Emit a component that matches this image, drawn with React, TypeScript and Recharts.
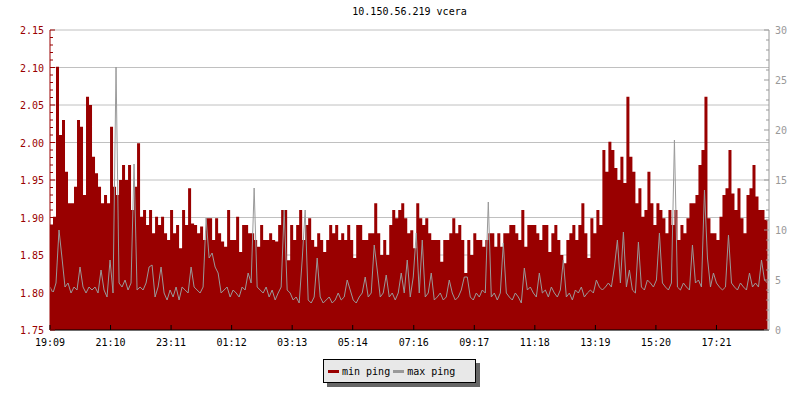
import { ComposedChart, Area, Line, XAxis, YAxis, CartesianGrid, Legend } from "recharts"

// min ping (ms), one value every 6 minutes
const minPing = [
  1.890, 1.901, 2.101, 2.010, 2.030, 1.961, 1.919, 1.919, 1.941, 2.030,
  2.021, 1.930, 2.061, 2.050, 1.981, 1.959, 1.941, 1.919, 1.930, 1.919,
  2.021, 1.941, 1.930, 1.950, 1.970, 1.950, 1.970, 1.910, 1.941, 1.999,
  1.901, 1.910, 1.890, 1.910, 1.879, 1.901, 1.890, 1.901, 1.879, 1.870,
  1.910, 1.879, 1.890, 1.859, 1.910, 1.890, 1.939, 1.892, 1.890, 1.879,
  1.888, 1.870, 1.899, 1.899, 1.870, 1.899, 1.879, 1.868, 1.861, 1.910,
  1.870, 1.870, 1.901, 1.854, 1.890, 1.890, 1.879, 1.879, 1.870, 1.861,
  1.890, 1.870, 1.870, 1.879, 1.870, 1.868, 1.890, 1.910, 1.910, 1.843,
  1.890, 1.870, 1.890, 1.910, 1.870, 1.890, 1.899, 1.870, 1.861, 1.879,
  1.870, 1.854, 1.870, 1.890, 1.879, 1.890, 1.870, 1.879, 1.870, 1.890,
  1.870, 1.846, 1.890, 1.890, 1.870, 1.870, 1.879, 1.879, 1.919, 1.879,
  1.850, 1.870, 1.850, 1.890, 1.910, 1.899, 1.910, 1.919, 1.899, 1.879,
  1.883, 1.859, 1.919, 1.899, 1.890, 1.899, 1.879, 1.870, 1.870, 1.870,
  1.841, 1.870, 1.870, 1.879, 1.899, 1.879, 1.890, 1.870, 1.826, 1.870,
  1.850, 1.879, 1.870, 1.870, 1.861, 1.870, 1.879, 1.879, 1.861, 1.879,
  1.861, 1.879, 1.879, 1.890, 1.890, 1.879, 1.870, 1.910, 1.861, 1.890,
  1.890, 1.890, 1.879, 1.870, 1.890, 1.890, 1.854, 1.879, 1.890, 1.870,
  1.850, 1.839, 1.870, 1.879, 1.890, 1.870, 1.890, 1.919, 1.879, 1.846,
  1.899, 1.879, 1.910, 1.890, 1.990, 1.961, 2.001, 1.990, 1.966, 1.950,
  1.981, 1.946, 2.061, 1.981, 1.961, 1.919, 1.939, 1.901, 1.910, 1.961,
  1.919, 1.890, 1.919, 1.910, 1.899, 1.879, 1.910, 1.890, 1.910, 1.870,
  1.890, 1.879, 1.899, 1.919, 1.919, 1.930, 1.970, 1.990, 2.061, 1.899,
  1.879, 1.879, 1.870, 1.901, 1.930, 1.939, 1.990, 1.932, 1.910, 1.939,
  1.899, 1.879, 1.930, 1.939, 1.970, 1.928, 1.910, 1.910, 1.897, 1.897,
]

// max ping (ms), right axis
const maxPing = [
  4.3, 3.7, 4.7, 10.0, 7.2, 4.3, 4.7, 3.7, 4.3, 4.0,
  6.3, 4.3, 3.7, 4.3, 4.0, 4.3, 3.7, 6.0, 4.0, 3.3,
  7.0, 3.7, 26.3, 4.7, 4.3, 5.0, 4.0, 4.7, 16.6, 4.0,
  4.3, 4.0, 4.7, 6.3, 6.5, 3.3, 4.3, 6.3, 3.7, 3.0,
  4.0, 3.3, 4.3, 3.0, 4.3, 4.0, 3.7, 6.3, 4.3, 4.0,
  3.7, 4.3, 11.2, 7.2, 7.7, 6.3, 5.7, 3.7, 4.0, 4.3,
  3.3, 4.0, 3.7, 3.3, 4.3, 4.0, 5.7, 4.7, 14.2, 4.3,
  4.0, 3.7, 4.3, 3.3, 4.0, 3.0, 3.7, 4.3, 12.0, 4.0,
  3.7, 3.0, 3.3, 2.7, 7.0, 12.0, 3.0, 2.7, 3.3, 7.2,
  3.3, 2.7, 3.0, 3.3, 2.7, 3.0, 3.7, 3.0, 3.3, 5.0,
  4.0, 3.0, 2.7, 3.3, 3.7, 5.3, 3.3, 3.7, 8.5, 6.0,
  3.3, 3.7, 5.5, 3.3, 3.7, 3.0, 3.7, 5.7, 3.7, 7.0,
  3.3, 5.3, 9.7, 3.7, 9.0, 3.3, 3.7, 5.7, 3.0, 3.3,
  3.7, 3.0, 3.3, 5.0, 3.7, 3.0, 3.3, 4.0, 5.3, 5.3,
  3.3, 3.0, 3.7, 3.3, 4.0, 3.7, 12.8, 3.3, 3.7, 3.0,
  3.7, 8.7, 3.7, 3.3, 3.0, 3.7, 3.3, 2.7, 6.2, 4.0,
  4.3, 3.7, 3.3, 5.7, 3.7, 4.0, 3.3, 4.3, 3.7, 3.3,
  4.0, 7.0, 3.3, 3.7, 3.0, 4.0, 3.7, 4.3, 3.3, 3.7,
  4.0, 3.7, 5.0, 4.3, 4.0, 4.3, 4.7, 4.3, 6.3, 9.0,
  4.7, 9.8, 4.3, 6.0, 4.0, 3.7, 8.8, 4.3, 4.0, 5.0,
  4.7, 4.3, 5.0, 9.7, 4.7, 4.3, 4.0, 4.7, 19.0, 4.3,
  4.0, 4.7, 4.3, 4.0, 8.5, 4.7, 5.0, 4.3, 14.0, 7.2,
  4.3, 5.7, 4.7, 4.3, 4.0, 4.3, 9.5, 4.7, 4.3, 4.0,
  4.7, 4.3, 4.0, 5.7, 4.3, 4.7, 4.3, 7.0, 5.0, 4.7,
]

const stepMinutes = 6
const tickLabels = ["19:09", "21:10", "23:11", "01:12", "03:13", "05:14", "07:16", "09:17", "11:18", "13:19", "15:20", "17:21"]
const tickMinutes = [0, 121, 242, 363, 484, 605, 727, 848, 969, 1090, 1211, 1332]
const leftMajor = [1.75, 1.8, 1.85, 1.9, 1.95, 2.0, 2.05, 2.1, 2.15]
const leftTicks = Array.from({ length: 41 }, (_, i) => +(1.75 + i * 0.01).toFixed(2))
const rightTicks = Array.from({ length: 31 }, (_, i) => i)
const seriesOrder = ["min ping", "max ping"]

const RED = "#990000"
const GREY = "#999999"
const FONT = "DejaVu Sans Mono"

const data = minPing.map((v, i) => ({ t: i * stepMinutes, min: v, max: maxPing[i] }))

const LeftTick = (props: any) => {
  const { x, y, payload } = props
  const v = payload.value
  const major = leftMajor.some((m) => Math.abs(m - v) < 1e-6)
  return (
    <g>
      <line x1={x} y1={y} x2={x + (major ? 5 : 3)} y2={y} stroke={RED} />
      {major && (
        <text x={x - 6} y={y} dy={4} textAnchor="end" fill={RED} fontSize={10} fontFamily={FONT}>
          {v.toFixed(2)}
        </text>
      )}
    </g>
  )
}

const RightTick = (props: any) => {
  const { x, y, payload } = props
  const v = payload.value
  const major = v % 5 === 0
  return (
    <g>
      <line x1={x} y1={y} x2={x - (major ? 5 : 3)} y2={y} stroke={GREY} />
      {major && (
        <text x={x + 6} y={y} dy={4} textAnchor="start" fill={GREY} fontSize={10} fontFamily={FONT}>
          {v}
        </text>
      )}
    </g>
  )
}

const TimeTick = (props: any) => {
  const { x, y, payload } = props
  const label = tickLabels[tickMinutes.indexOf(payload.value)]
  return (
    <g>
      <line x1={x} y1={y} x2={x} y2={y - 5} stroke="#000" />
      <text x={x} y={y + 16} textAnchor="middle" fill="#000" fontSize={10} fontFamily={FONT}>
        {label}
      </text>
    </g>
  )
}

const PingLegend = (props: any) => {
  const items = [...(props.payload ?? [])].sort(
    (a: any, b: any) => seriesOrder.indexOf(a.value) - seriesOrder.indexOf(b.value)
  )
  return (
    <div style={{ position: "relative", width: 157, height: 28 }}>
      <div style={{ position: "absolute", left: 4, top: 4, width: 153, height: 24, background: "#666" }} />
      <div
        style={{
          position: "absolute", left: 0, top: 0, width: 153, height: 24,
          background: "#e8e8e8", border: "1px solid #000",
          display: "flex", alignItems: "center", paddingLeft: 4, boxSizing: "border-box",
          fontFamily: FONT, fontSize: 10, color: "#000",
        }}
      >
        {items.map((it: any) => (
          <span key={it.value} style={{ display: "flex", alignItems: "center", marginRight: 3, color: "#000" }}>
            <span style={{ display: "inline-block", width: 11, height: 3, background: it.color, marginRight: 3 }} />
            {it.value}
          </span>
        ))}
      </div>
    </div>
  )
}

export default function App() {
  return (
    <div style={{ position: "absolute", left: 0, top: 0, width: 800, height: 400, background: "#fff" }}>
      <div
        style={{
          position: "absolute", left: 50, width: 719, top: 6, textAlign: "center",
          fontFamily: FONT, fontSize: 10, color: "#000", zIndex: 2,
        }}
      >
        10.150.56.219 vcera
      </div>
      <ComposedChart width={800} height={400} data={data} margin={{ top: 30, right: 0, bottom: 0, left: 0 }}>
        <CartesianGrid yAxisId="left" vertical={false} stroke="#c0c0c0" horizontalValues={leftMajor} />
        <XAxis
          dataKey="t"
          type="number"
          domain={[0, 1437]}
          ticks={tickMinutes}
          interval={0}
          height={70}
          tickSize={0}
          tickMargin={0}
          tick={<TimeTick />}
          axisLine={{ stroke: "#000" }}
          allowDataOverflow
        />
        <YAxis
          yAxisId="left"
          domain={[1.75, 2.15]}
          ticks={leftTicks}
          interval={0}
          width={50}
          tickSize={0}
          tickMargin={0}
          tick={<LeftTick />}
          axisLine={{ stroke: RED }}
          allowDataOverflow
        />
        <YAxis
          yAxisId="right"
          orientation="right"
          domain={[0, 30]}
          ticks={rightTicks}
          interval={0}
          width={31}
          tickSize={0}
          tickMargin={0}
          tick={<RightTick />}
          axisLine={{ stroke: GREY }}
          allowDataOverflow
        />
        <Area
          yAxisId="left"
          type="stepAfter"
          dataKey="min"
          name="min ping"
          stroke={RED}
          strokeWidth={0}
          fill={RED}
          fillOpacity={1}
          isAnimationActive={false}
        />
        <Line
          yAxisId="right"
          type="linear"
          dataKey="max"
          name="max ping"
          stroke={GREY}
          strokeWidth={1}
          dot={false}
          isAnimationActive={false}
        />
        <Legend
          layout="horizontal"
          verticalAlign="middle"
          align="center"
          content={<PingLegend />}
          wrapperStyle={{ left: 323, top: 359, width: 160, height: 30 }}
        />
      </ComposedChart>
    </div>
  )
}
